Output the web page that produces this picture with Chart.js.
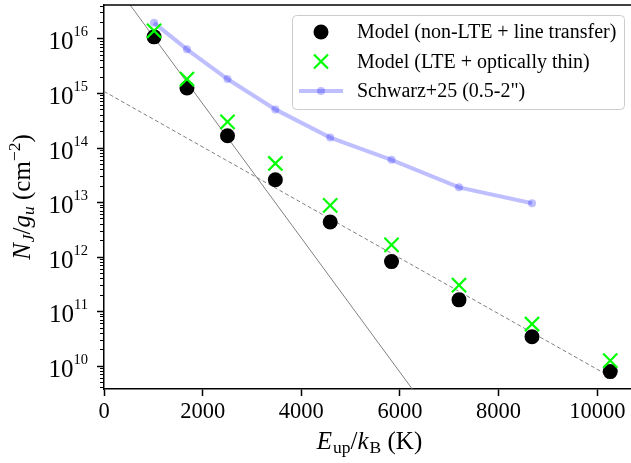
<!DOCTYPE html>
<html>
<head>
<meta charset="utf-8">
<script src="https://cdn.jsdelivr.net/npm/chart.js@4.4.0/dist/chart.umd.min.js"></script>
<style>
  html, body { margin: 0; padding: 0; background: #fff; }
</style>
</head>
<body>
<canvas id="myChart" width="631" height="463"></canvas>
<script>
// upper level energies E_up/k_B (K)
const eUp = [1015, 1682, 2504, 3474, 4586, 5829, 7197, 8677, 10263];
// column densities N_J/g_u (cm^-2)
const nonLte = [1.07e16, 1.23e15, 1.64e14, 2.57e13, 4.3e12, 8.1e11, 1.61e11, 3.4e10, 7.8e9];
const lteThin = [1.38e16, 1.8e15, 2.95e14, 5.1e13, 8.7e12, 1.64e12, 3.0e11, 5.8e10, 1.24e10];
const schwarzE = [1015, 1682, 2504, 3474, 4586, 5829, 7197, 8677];
const schwarz = [1.93e16, 6.3e15, 1.8e15, 5.0e14, 1.52e14, 5.96e13, 1.86e13, 9.5e12];
// fit lines (end points)
const warmFitE = [0, 7000];
const warmFitN = [1.84e17, 4.45e8];
const hotFitE = [0, 10263];
const hotFitN = [1.07e15, 6.3e9];
// axes
const xTicks = [0, 2000, 4000, 6000, 8000, 10000];
const yDecades = [10, 11, 12, 13, 14, 15, 16];
const xRange = [0, 10684];
const yRange = [3.74e9, 4.1e16];

const labels = ['Model (non-LTE + line transfer)', 'Model (LTE + optically thin)', 'Schwarz+25 (0.5-2")'];

const serif = '"Liberation Serif", "Times New Roman", serif';
const schwarzColor = 'rgba(0, 0, 255, 0.25)';

function pts(xs, ys) {
  return xs.map((v, i) => ({ x: v, y: ys[i] }));
}

// draw a run of text pieces with different fonts / offsets
function drawRich(ctx, parts, x, y, align) {
  let total = 0;
  parts.forEach((p) => {
    ctx.font = p.font;
    p.w = ctx.measureText(p.t).width + (p.gap || 0);
    total += p.w;
  });
  let cx = x;
  if (align === 'center') cx = x - total / 2;
  if (align === 'right') cx = x - total;
  ctx.textBaseline = 'alphabetic';
  ctx.textAlign = 'left';
  parts.forEach((p) => {
    ctx.font = p.font;
    ctx.fillText(p.t, cx, y + (p.dy || 0));
    cx += p.w;
  });
}

const decorations = {
  id: 'decorations',
  afterDraw(chart) {
    const { ctx, chartArea: a, scales } = chart;
    const y = scales.y;
    ctx.save();
    ctx.fillStyle = '#000';
    ctx.strokeStyle = '#000';

    // top spine
    ctx.lineWidth = 1.5;
    ctx.beginPath();
    ctx.moveTo(a.left, a.top);
    ctx.lineTo(a.right, a.top);
    ctx.stroke();

    // y ticks (log, major + minor)
    for (let d = 9; d <= 16; d++) {
      for (let m = 1; m <= 9; m++) {
        const v = m * Math.pow(10, d);
        if (v < yRange[0] || v > yRange[1]) continue;
        const py = Math.round(y.getPixelForValue(v)) + 0.5;
        const len = m === 1 ? 7 : 4;
        ctx.lineWidth = m === 1 ? 1.5 : 1;
        ctx.beginPath();
        ctx.moveTo(a.left - len, py);
        ctx.lineTo(a.left, py);
        ctx.stroke();
      }
    }

    // y tick labels 10^n
    yDecades.forEach((d) => {
      const py = y.getPixelForValue(Math.pow(10, d));
      ctx.font = '14.5px ' + serif;
      const supW = ctx.measureText(String(d)).width;
      const right = a.left - 16;
      ctx.textAlign = 'left';
      ctx.textBaseline = 'alphabetic';
      ctx.fillText(String(d), right - supW, py - 2);
      ctx.font = '25px ' + serif;
      ctx.textAlign = 'right';
      ctx.fillText('10', right - supW, py + 11);
    });

    // x axis title
    const big = '25px ' + serif;
    const bigIt = 'italic 25px ' + serif;
    const small = '17.5px ' + serif;
    const smallIt = 'italic 17.5px ' + serif;
    drawRich(ctx, [
      { t: 'E', font: bigIt, gap: 1 },
      { t: 'up', font: small, dy: 4 },
      { t: '/', font: big },
      { t: 'k', font: bigIt, gap: 1 },
      { t: 'B', font: small, dy: 4 },
      { t: ' (K)', font: big }
    ], (a.left + a.right) / 2 + 2, 449, 'center');

    // y axis title
    ctx.save();
    ctx.translate(30, (a.top + a.bottom) / 2);
    ctx.rotate(-Math.PI / 2);
    drawRich(ctx, [
      { t: 'N', font: bigIt, gap: 1 },
      { t: 'J', font: smallIt, dy: 4 },
      { t: '/', font: big },
      { t: 'g', font: bigIt },
      { t: 'u', font: smallIt, dy: 4 },
      { t: ' (cm', font: big },
      { t: '\u22122', font: small, dy: -10 },
      { t: ')', font: big }
    ], 0, 0, 'center');
    ctx.restore();

    // legend
    const box = { x: 292.5, y: 15.5, w: 332, h: 94 };
    ctx.beginPath();
    ctx.roundRect(box.x, box.y, box.w, box.h, 4);
    ctx.fillStyle = 'rgba(255,255,255,0.8)';
    ctx.fill();
    ctx.strokeStyle = '#cccccc';
    ctx.lineWidth = 1;
    ctx.stroke();

    const mx = 321;
    const rows = [32, 61.5, 91];
    // circle
    ctx.fillStyle = '#000';
    ctx.beginPath();
    ctx.arc(mx, rows[0], 7.5, 0, Math.PI * 2);
    ctx.fill();
    // cross
    ctx.strokeStyle = '#00ff00';
    ctx.lineWidth = 2.2;
    ctx.beginPath();
    ctx.moveTo(mx - 7, rows[1] - 7);
    ctx.lineTo(mx + 7, rows[1] + 7);
    ctx.moveTo(mx - 7, rows[1] + 7);
    ctx.lineTo(mx + 7, rows[1] - 7);
    ctx.stroke();
    // line + dot
    ctx.strokeStyle = schwarzColor;
    ctx.lineWidth = 4;
    ctx.beginPath();
    ctx.moveTo(299, rows[2]);
    ctx.lineTo(343, rows[2]);
    ctx.stroke();
    ctx.fillStyle = schwarzColor;
    ctx.beginPath();
    ctx.arc(mx, rows[2], 4, 0, Math.PI * 2);
    ctx.fill();

    ctx.fillStyle = '#000';
    ctx.font = '20px ' + serif;
    ctx.textAlign = 'left';
    ctx.textBaseline = 'middle';
    labels.forEach((t, i) => ctx.fillText(t, 357, rows[i] + 1));

    ctx.restore();
  }
};

const ctx = document.getElementById('myChart').getContext('2d');

const data = {
  datasets: [
    {
      label: labels[1],
      data: pts(eUp, lteThin),
      pointStyle: 'crossRot',
      pointRadius: 10,
      borderColor: '#00ff00',
      backgroundColor: '#00ff00',
      pointBorderWidth: 2.2,
      showLine: false,
      order: 0
    },
    {
      label: labels[0],
      data: pts(eUp, nonLte),
      pointStyle: 'circle',
      pointRadius: 7.5,
      backgroundColor: '#000',
      borderColor: '#000',
      pointBorderWidth: 0,
      showLine: false,
      order: 1
    },
    {
      label: labels[2],
      data: pts(schwarzE, schwarz),
      showLine: true,
      borderColor: schwarzColor,
      borderWidth: 4,
      pointRadius: 4,
      pointBackgroundColor: schwarzColor,
      pointBorderWidth: 0,
      order: 2
    },
    {
      label: 'warm fit',
      data: pts(warmFitE, warmFitN),
      showLine: true,
      borderColor: '#808080',
      borderWidth: 1,
      pointRadius: 0,
      order: 3
    },
    {
      label: 'hot fit',
      data: pts(hotFitE, hotFitN),
      showLine: true,
      borderColor: '#808080',
      borderWidth: 1,
      borderDash: [4, 2.5],
      pointRadius: 0,
      order: 4
    }
  ]
};

const config = {
  type: 'scatter',
  data: data,
  options: {
    responsive: false,
    animation: false,
    devicePixelRatio: 1,
    events: [],
    layout: { autoPadding: false, padding: { top: 5, right: 0, left: 0, bottom: 0 } },
    plugins: {
      legend: { display: false },
      tooltip: { enabled: false }
    },
    scales: {
      x: {
        type: 'linear',
        min: xRange[0],
        max: xRange[1],
        afterBuildTicks: (scale) => {
          scale.ticks = xTicks.map((v) => ({ value: v }));
        },
        afterFit: (scale) => { scale.height = 74; },
        grid: {
          drawOnChartArea: false,
          drawTicks: true,
          tickLength: 7,
          tickWidth: 1.5,
          tickColor: '#000'
        },
        border: { display: true, color: '#000', width: 1.5 },
        ticks: {
          color: '#000',
          font: { family: serif, size: 22.5 },
          padding: 3,
          maxRotation: 0,
          callback: (v) => String(v)
        }
      },
      y: {
        type: 'logarithmic',
        min: yRange[0],
        max: yRange[1],
        afterFit: (scale) => { scale.width = 104; },
        grid: { display: false },
        border: { display: true, color: '#000', width: 1.5 },
        ticks: { display: false }
      }
    }
  },
  plugins: [decorations]
};

const myChart = new Chart(ctx, config);
</script>
</body>
</html>
